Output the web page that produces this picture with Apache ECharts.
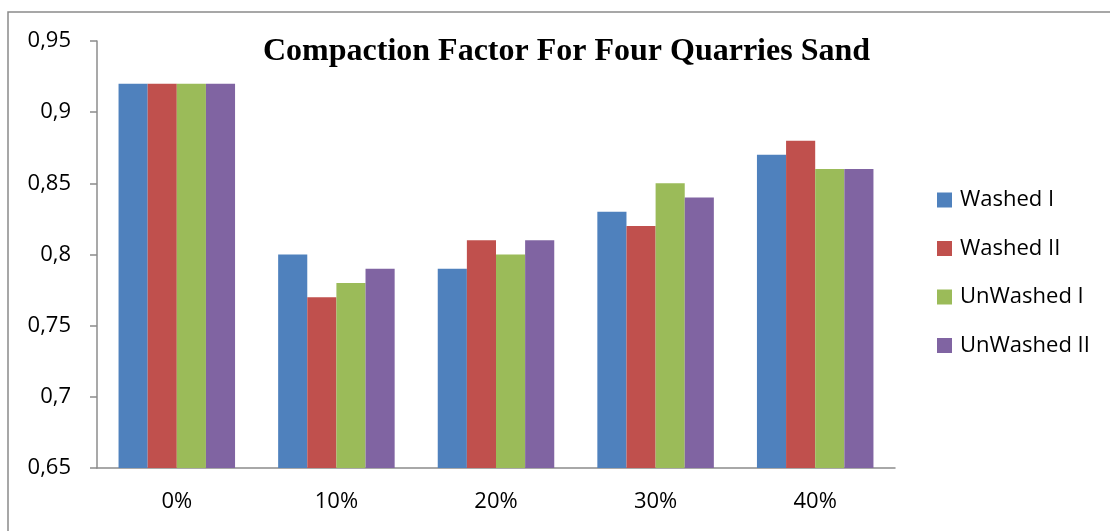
<!DOCTYPE html>
<html>
<head>
<meta charset="utf-8">
<title>Compaction Factor</title>
<script src="https://cdn.jsdelivr.net/npm/echarts@6/dist/echarts.min.js"></script>
<style>
	html, body { margin: 0; padding: 0; background: #fff; }
	#chart { width: 1110px; height: 531px; }
</style>
</head>
<body>
<div id="chart"></div>
<script>
// data
var categories = ['0%', '10%', '20%', '30%', '40%'];
var washed1 = [0.92, 0.80, 0.79, 0.83, 0.87];
var washed2 = [0.92, 0.77, 0.81, 0.82, 0.88];
var unwashed1 = [0.92, 0.78, 0.80, 0.85, 0.86];
var unwashed2 = [0.92, 0.79, 0.81, 0.84, 0.86];
var seriesNames = ['Washed I', 'Washed II', 'UnWashed I', 'UnWashed II'];

var main = {
	init: function() {
		var myChart = echarts.init(document.getElementById('chart'));
		var txt = '"Open Sans", "Noto Sans", sans-serif';
		var values = [washed1, washed2, unwashed1, unwashed2];

		var series = seriesNames.map(function(name, i) {
			return {
				name: name,
				type: 'bar',
				barGap: '0%',
				barCategoryGap: '27%',
				data: values[i]
			};
		});

		var option = {
			animation: false,
			color: ['#4F81BD', '#C0504D', '#9BBB59', '#8064A2'],
			title: {
				text: 'Compaction Factor For Four Quarries Sand',
				left: 258,
				top: 31,
				textStyle: {
					fontFamily: '"Liberation Serif", "Times New Roman", serif',
					fontWeight: 'bold',
					fontSize: 32,
					color: '#000'
				}
			},
			// outer frame of the chart
			graphic: [{
				type: 'rect',
				shape: { x: 8, y: 12, width: 1120, height: 540 },
				style: { fill: 'none', stroke: '#8a8a8a', lineWidth: 1.5 },
				silent: true
			}],
			legend: {
				orient: 'vertical',
				left: 932,
				top: 184,
				itemWidth: 15,
				itemHeight: 15,
				itemGap: 26.5,
				icon: 'rect',
				textStyle: {
					fontFamily: txt,
					fontSize: 22,
					lineHeight: 22,
					padding: [0, 0, 0, 3],
					color: '#000'
				}
			},
			grid: {
				left: 97,
				right: 215,
				top: 41,
				bottom: 63
			},
			xAxis: {
				type: 'category',
				data: categories,
				axisLine: { lineStyle: { color: '#8c8c8c', width: 1.5 } },
				axisTick: { length: 8, lineStyle: { color: '#8c8c8c', width: 1.5 } },
				axisLabel: {
					margin: 23,
					fontFamily: txt,
					fontSize: 22,
					color: '#000'
				}
			},
			yAxis: {
				type: 'value',
				min: 0.65,
				max: 0.95,
				interval: 0.05,
				splitLine: { show: false },
				axisLine: { show: true, lineStyle: { color: '#8c8c8c', width: 1.5 } },
				axisTick: { show: true, length: 7, lineStyle: { color: '#8c8c8c', width: 1.5 } },
				axisLabel: {
					margin: 26,
					fontFamily: txt,
					fontSize: 22,
					color: '#000',
					formatter: function(v) {
						return String(Math.round(v * 100) / 100).replace('.', ',');
					}
				}
			},
			series: series
		};

		myChart.setOption(option);
	}
};

main.init();
</script>
</body>
</html>
